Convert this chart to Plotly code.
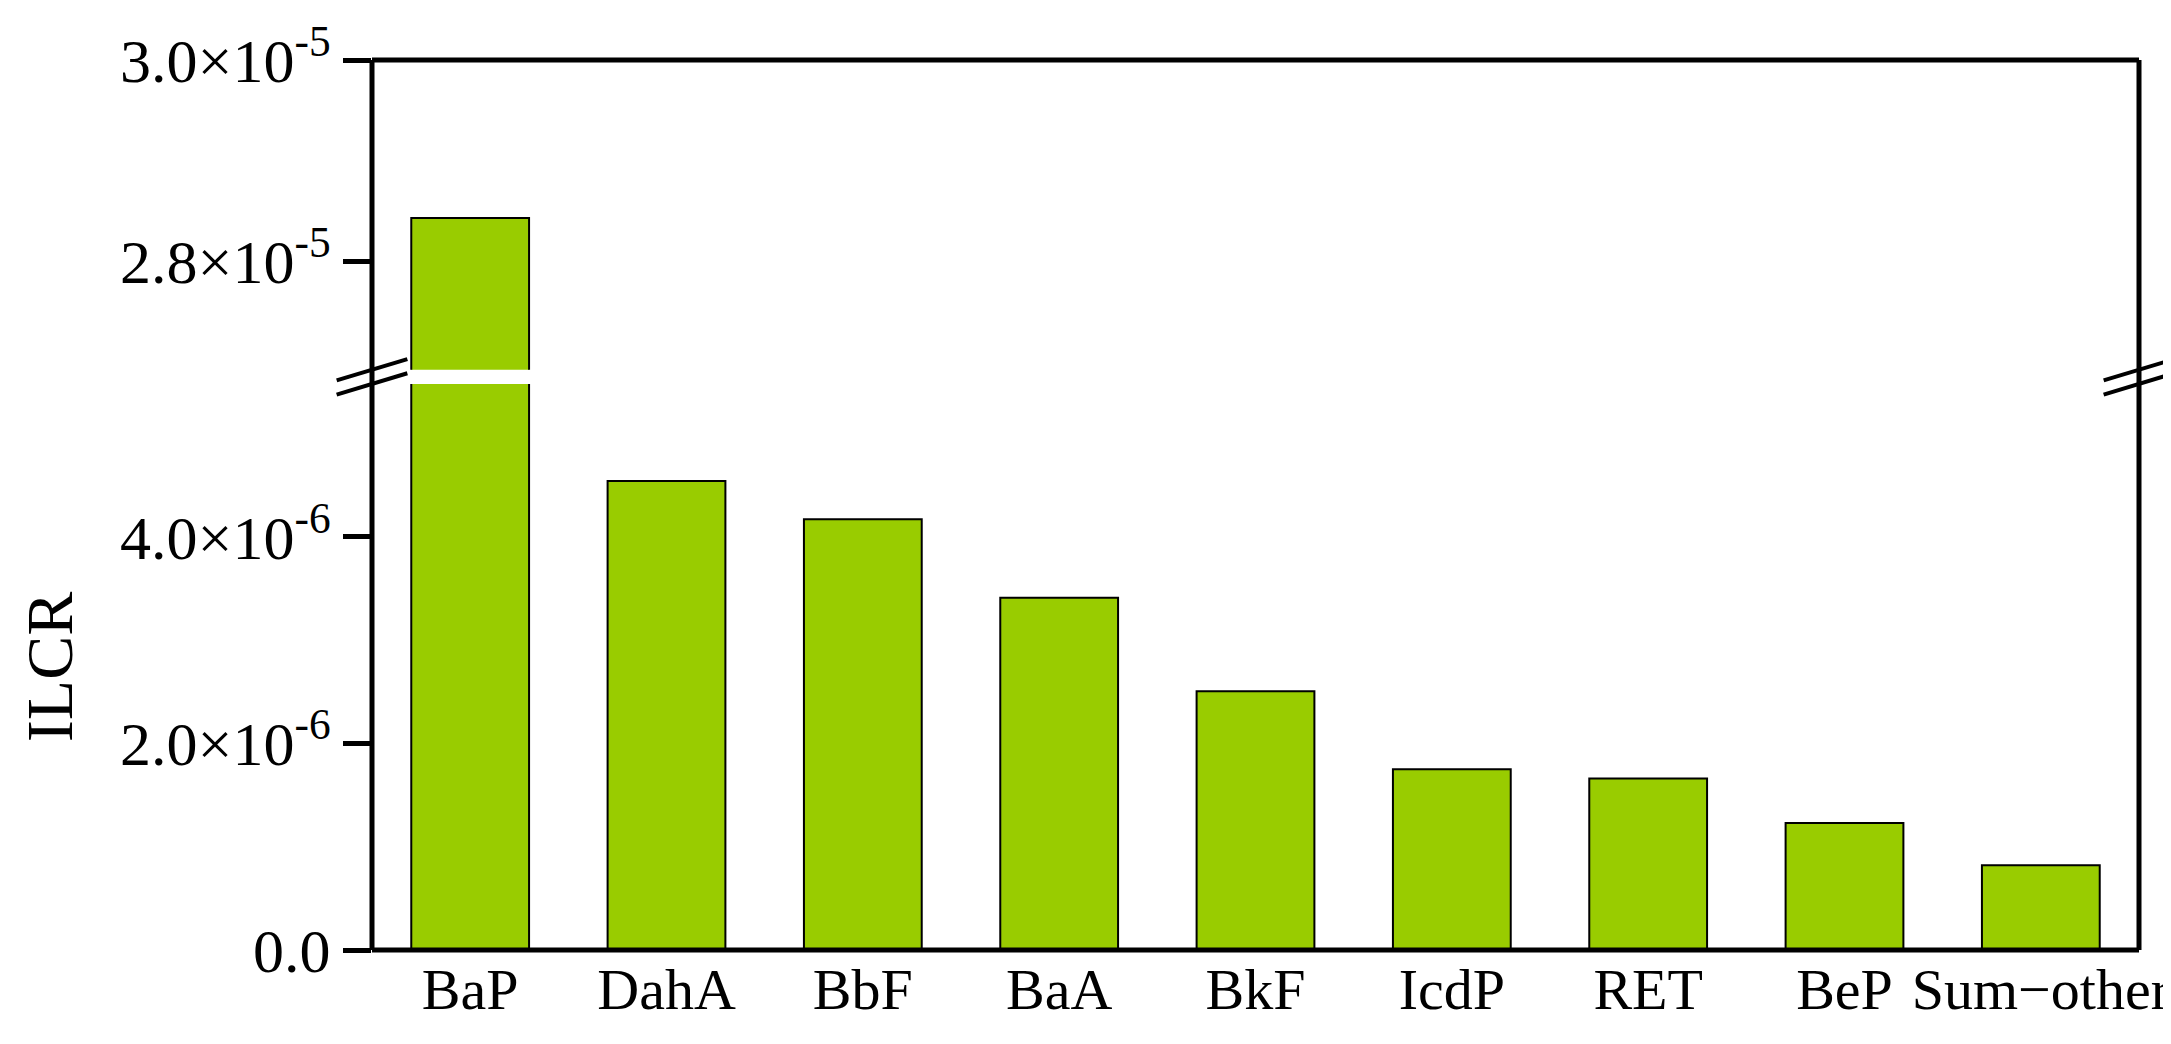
import plotly.graph_objects as go

categories = ["BaP", "DahA", "BbF", "BaA", "BkF", "IcdP", "RET", "BeP", "Sum\u2212other"]
ilcr = [2.843e-5, 4.54e-6, 4.17e-6, 3.41e-6, 2.505e-6, 1.75e-6, 1.66e-6, 1.23e-6, 0.82e-6]
low_ticks = [0, 2e-6, 4e-6]
low_labels = ["0.0", "2.0\u00d710<sup>-6</sup>", "4.0\u00d710<sup>-6</sup>"]
up_ticks = [2.8e-5, 3.0e-5]
up_labels = ["2.8\u00d710<sup>-5</sup>", "3.0\u00d710<sup>-5</sup>"]

FONT = "Liberation Serif"
color = "#99cc00"
fig = go.Figure()
for ya in ["y", "y2"]:
    fig.add_trace(go.Bar(x=categories, y=ilcr, yaxis=ya, width=0.6,
                         marker=dict(color=color, line=dict(color="black", width=2)),
                         showlegend=False))

lo_dom = [0, 0.636]
up_dom = [0.652, 1]
ax_common = dict(ticks="outside", ticklen=28, tickwidth=5, tickcolor="black",
                 showgrid=False, zeroline=False, showline=False, automargin=False,
                 tickfont=dict(family=FONT, size=62, color="black"))
fig.update_layout(
    width=2171, height=1044, plot_bgcolor="white", paper_bgcolor="white",
    margin=dict(l=364, r=40, t=52, b=102),
    bargap=0.4,
    xaxis=dict(showgrid=False, showline=False, ticks="", automargin=False,
               tickfont=dict(family=FONT, size=58, color="black"), range=[-0.5, 8.5]),
    yaxis=dict(domain=lo_dom, range=[0, 5.48e-6], tickvals=low_ticks, ticktext=low_labels, **ax_common,
               title=dict(text="ILCR", font=dict(family=FONT, size=66, color="black"), standoff=25)),
    yaxis2=dict(domain=up_dom, range=[2.692e-5, 3.0e-5], tickvals=up_ticks, ticktext=up_labels, **ax_common),
)
lw = 5
shapes = [
    dict(type="line", xref="paper", yref="paper", x0=0, x1=1, y0=0, y1=0, line=dict(color="black", width=lw)),
    dict(type="line", xref="paper", yref="paper", x0=0, x1=1, y0=1, y1=1, line=dict(color="black", width=lw)),
    dict(type="line", xref="paper", yref="paper", x0=0, x1=0, y0=0, y1=1, line=dict(color="black", width=lw)),
    dict(type="line", xref="paper", yref="paper", x0=1, x1=1, y0=0, y1=1, line=dict(color="black", width=lw)),
]
for xc in [0, 1]:
    for dy in [0.636, 0.652]:
        shapes.append(dict(type="line", xref="paper", yref="paper",
                           x0=xc - 0.02, x1=xc + 0.02, y0=dy - 0.012, y1=dy + 0.012,
                           line=dict(color="black", width=4)))
fig.update_layout(shapes=shapes)
fig.write_html("out.html")
